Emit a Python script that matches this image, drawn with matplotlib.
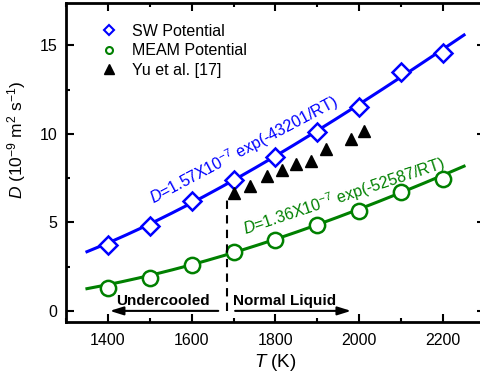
import numpy as np
import matplotlib
matplotlib.use("Agg")
import matplotlib.pyplot as plt
from matplotlib.lines import Line2D

plt.rcParams['font.family'] = ['Liberation Sans', 'DejaVu Sans']
plt.rcParams['mathtext.fontset'] = 'custom'
plt.rcParams['mathtext.rm'] = 'Liberation Sans'
plt.rcParams['mathtext.it'] = 'Liberation Sans:italic'

# data
T_sim = [1400, 1500, 1600, 1700, 1800, 1900, 2000, 2100, 2200]
D_sw = [3.70, 4.77, 6.19, 7.40, 8.72, 10.11, 11.51, 13.49, 14.59]
D_meam = [1.28, 1.85, 2.62, 3.30, 4.02, 4.87, 5.66, 6.70, 7.47]

T_yu = [1700, 1740, 1780, 1815, 1850, 1885, 1920, 1980, 2012]
D_yu = [6.66, 7.04, 7.60, 7.98, 8.32, 8.45, 9.16, 9.72, 10.19]

# Arrhenius fits as written on the chart (D0 in 1e-9 m^2/s, Q in J/mol)
D0_sw, Q_sw = 157.0, 43201.0
D0_meam, Q_meam = 136.0, 52587.0
R = 8.314
T_melt = 1685

blue = '#0000ff'
green = '#008000'

fig = plt.figure(figsize=(4.81, 3.79), dpi=100)
ax = fig.add_axes([66/481, 57.5/379, 419/481, 318.5/379])

T_fit = np.linspace(1350, 2250, 200)
ax.plot(T_fit, D0_sw*np.exp(-Q_sw/(R*T_fit)), color=blue, lw=2.2)
ax.plot(T_fit, D0_meam*np.exp(-Q_meam/(R*T_fit)), color=green, lw=2.2)

ax.plot(T_sim, D_sw, ls='none', marker='D', ms=9, mfc='white', mec=blue, mew=1.8)
ax.plot(T_sim, D_meam, ls='none', marker='o', ms=11, mfc='white', mec=green, mew=1.8)
ax.plot(T_yu, D_yu, ls='none', marker='^', ms=9, color='black')

ax.plot([T_melt, T_melt], [0, 6.45], color='black', ls=(0, (4, 3)), lw=1.5)

ax.annotate('', xy=(1398, 0), xytext=(1670, 0),
            arrowprops=dict(arrowstyle='-|>,head_length=0.8,head_width=0.25', color='black', lw=1.5))
ax.annotate('', xy=(1987, 0), xytext=(1697, 0),
            arrowprops=dict(arrowstyle='-|>,head_length=0.8,head_width=0.25', color='black', lw=1.5))
ax.text(1419, 0.34, 'Undercooled', fontsize=11, fontweight='bold', ha='left', va='baseline')
ax.text(1698, 0.34, 'Normal Liquid', fontsize=11, fontweight='bold', ha='left', va='baseline')

ax.text(1510, 6.0, '$D$=1.57X10$^{-7}$ exp(-43201/RT)', color=blue, fontsize=11.5,
        rotation=28, rotation_mode='anchor', ha='left', va='baseline')
ax.text(1729, 4.3, '$D$=1.36X10$^{-7}$ exp(-52587/RT)', color=green, fontsize=11.5,
        rotation=18.4, rotation_mode='anchor', ha='left', va='baseline')

ax.set_xlim(1300, 2300)
ax.set_ylim(-0.6, 17.4)
ax.set_xticks([1400, 1600, 1800, 2000, 2200])
ax.set_xticks(np.arange(1300, 2301, 100), minor=True)
ax.set_yticks([0, 5, 10, 15])
ax.set_yticks([2.5, 7.5, 12.5], minor=True)
ax.tick_params(which='both', direction='in', top=True, right=True, width=1.5, labelsize=11.5)
ax.tick_params(which='major', length=6)
ax.tick_params(which='minor', length=3)
ax.tick_params(axis='x', pad=8)
ax.tick_params(axis='y', pad=6)
for s in ax.spines.values():
    s.set_linewidth(2)

ax.set_xlabel('$T$ (K)', fontsize=13.5, labelpad=3)
ax.set_ylabel('$D$ (10$^{-9}$ m$^2$ s$^{-1}$)', fontsize=12.5)
ax.yaxis.set_label_coords(-0.09, 0.57)

handles = [
    Line2D([], [], ls='none', marker='D', ms=5, mfc='white', mec=blue, mew=1.5),
    Line2D([], [], ls='none', marker='o', ms=5, mfc='white', mec=green, mew=1.5),
    Line2D([], [], ls='none', marker='^', ms=6.5, color='black'),
]
ax.legend(handles, ['SW Potential', 'MEAM Potential', 'Yu et al. [17]'],
          loc='upper left', bbox_to_anchor=(0.05, 0.975), frameon=False, fontsize=11.5,
          handlelength=1.2, handletextpad=0.8, labelspacing=0.28, borderpad=0.3)

fig.savefig('out.png', dpi=100)
